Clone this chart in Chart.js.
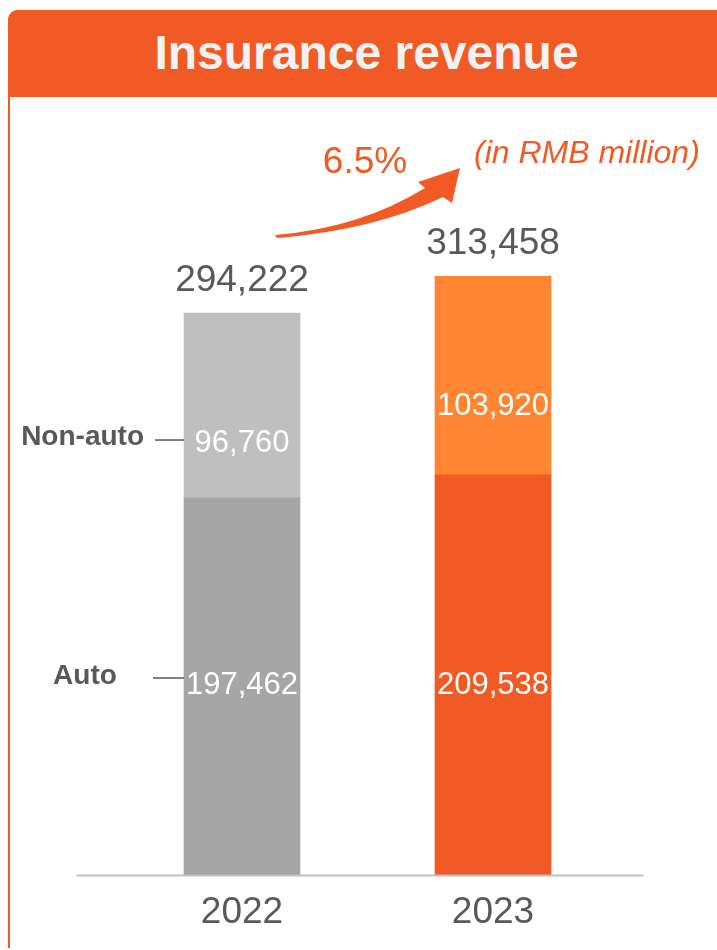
<!DOCTYPE html>
<html>
<head>
<meta charset="utf-8">
<script src="https://cdn.jsdelivr.net/npm/chart.js@4.4.0/dist/chart.umd.min.js"></script>
<style>
  html, body { margin: 0; padding: 0; background: #fff; }
  body { width: 717px; height: 950px; position: relative; overflow: hidden; font-family: "Liberation Sans", Arial, sans-serif; }
  .frame { position: absolute; left: 8px; top: 10px; width: 740px; height: 936px; border: 2px solid #F15A24; border-bottom: none; border-radius: 10px 10px 0 0; }
  .header { position: absolute; left: 8px; top: 10px; width: 744px; height: 87px; background: #F15A24; border-radius: 10px 10px 0 0; }
  .title { position: absolute; left: 0; top: 10px; width: 733px; height: 87px; line-height: 86px; text-align: center; color: #F2F2F2; font-weight: bold; font-size: 48px; }
  .wrap { position: absolute; left: 0; top: 0; width: 717px; height: 950px; }
</style>
</head>
<body>
<div class="frame"></div>
<div class="header"></div>
<div class="title">Insurance revenue</div>
<div class="wrap"><canvas id="revenueChart"></canvas></div>
<script>
// 数据
const years = ['2022', '2023'];
const autoValues = [197462, 209538];
const nonAutoValues = [96760, 103920];
const totals = [294222, 313458];
const seriesNames = ['Auto', 'Non-auto'];
const growthText = '6.5%';
const unitText = '(in RMB million)';

const FONT = '"Liberation Sans", Arial, sans-serif';
const ORANGE = '#F15A24';
const GREY_TEXT = '#595959';

function fmt(v) {
    return v.toLocaleString('en-US');
}

// 标签、箭头、基线
const labelPlugin = {
    id: 'labels',
    afterDatasetsDraw(chart) {
        const ctx = chart.ctx;
        const area = chart.chartArea;
        const autoMeta = chart.getDatasetMeta(0);
        const nonMeta = chart.getDatasetMeta(1);
        ctx.save();

        // 基线
        ctx.strokeStyle = '#BFBFBF';
        ctx.lineWidth = 2;
        ctx.beginPath();
        ctx.moveTo(area.left - 40, area.bottom + 0.5);
        ctx.lineTo(area.right + 25, area.bottom + 0.5);
        ctx.stroke();

        ctx.textAlign = 'center';
        ctx.textBaseline = 'middle';
        years.forEach((yr, i) => {
            const a = autoMeta.data[i];
            const n = nonMeta.data[i];
            // 合计
            ctx.fillStyle = GREY_TEXT;
            ctx.font = '37px ' + FONT;
            ctx.fillText(fmt(totals[i]), n.x, n.y - 32);
            // 段内数值
            ctx.fillStyle = '#FFFFFF';
            ctx.font = '31px ' + FONT;
            ctx.fillText(fmt(nonAutoValues[i]), n.x, n.y + 130);
            ctx.fillText(fmt(autoValues[i]), a.x, a.base - 190);
            // 年份
            ctx.fillStyle = GREY_TEXT;
            ctx.font = '37px ' + FONT;
            ctx.fillText(yr, a.x, area.bottom + 38);
        });

        // 左侧图例
        const a0 = autoMeta.data[0];
        const n0 = nonMeta.data[0];
        const left0 = a0.x - a0.width / 2;
        ctx.fillStyle = GREY_TEXT;
        ctx.strokeStyle = GREY_TEXT;
        ctx.lineWidth = 1.5;
        ctx.font = 'bold 28px ' + FONT;
        ctx.textAlign = 'right';
        ctx.fillText(seriesNames[1], left0 - 40, n0.y + 124);
        ctx.beginPath();
        ctx.moveTo(left0 - 29, n0.y + 127);
        ctx.lineTo(left0, n0.y + 127);
        ctx.stroke();
        ctx.textAlign = 'center';
        ctx.fillText(seriesNames[0], left0 - 99, a0.base - 199);
        ctx.beginPath();
        ctx.moveTo(left0 - 31, a0.base - 197);
        ctx.lineTo(left0, a0.base - 197);
        ctx.stroke();

        // 增长箭头
        ctx.fillStyle = ORANGE;
        ctx.beginPath();
        ctx.moveTo(275, 235);
        ctx.quadraticCurveTo(360, 228, 425, 188);
        ctx.lineTo(418, 182);
        ctx.lineTo(460, 168);
        ctx.lineTo(452, 203);
        ctx.lineTo(443, 197);
        ctx.quadraticCurveTo(375, 230, 277, 238);
        ctx.closePath();
        ctx.fill();

        ctx.font = '37px ' + FONT;
        ctx.textAlign = 'center';
        ctx.fillText(growthText, 365, 163);
        ctx.font = 'italic 32px ' + FONT;
        ctx.textAlign = 'left';
        ctx.fillText(unitText, 474, 154);
        ctx.restore();
    }
};

const chartCtx = document.getElementById('revenueChart').getContext('2d');
const revenueChart = new Chart(chartCtx, {
    type: 'bar',
    data: {
        labels: years,
        datasets: [{
            label: seriesNames[0],
            data: autoValues,
            backgroundColor: ['#A6A6A6', ORANGE],
            barThickness: 116,
            borderWidth: 0
        }, {
            label: seriesNames[1],
            data: nonAutoValues,
            backgroundColor: ['#BFBFBF', '#FF8533'],
            barThickness: 116,
            borderWidth: 0
        }]
    },
    options: {
        responsive: true,
        maintainAspectRatio: false,
        animation: false,
        layout: {
            padding: { left: 116.5, right: 98.5, top: 111, bottom: 75 }
        },
        plugins: {
            legend: { display: false },
            tooltip: { enabled: false }
        },
        scales: {
            x: { stacked: true, display: false },
            y: { stacked: true, display: false, min: 0, max: 400000 }
        }
    },
    plugins: [labelPlugin]
});
</script>
</body>
</html>
